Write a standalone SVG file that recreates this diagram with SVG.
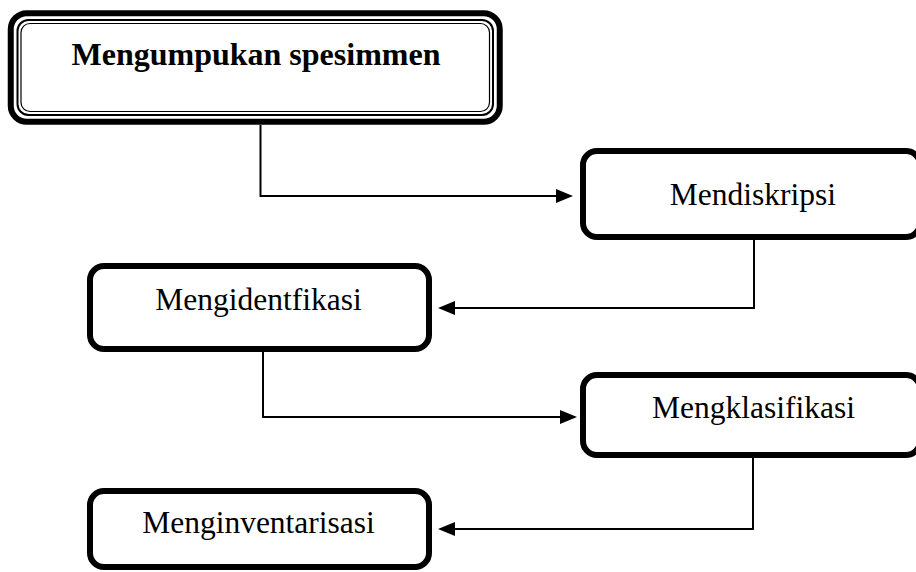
<svg xmlns="http://www.w3.org/2000/svg" width="916" height="572" viewBox="0 0 916 572">
<style>
.box{fill:#fff;stroke:#000;stroke-width:6}
.thin{fill:none;stroke:#000}
.lbl{font-family:"Liberation Serif","Times New Roman",serif;font-size:31.5px;fill:#000;text-anchor:middle}
.bold{font-weight:bold;font-size:32px}
.conn{fill:none;stroke:#000;stroke-width:2}
</style>
<defs>
<marker id="arr" markerUnits="userSpaceOnUse" markerWidth="17" markerHeight="14" refX="13" refY="7" orient="auto">
<path d="M0,0 L17,7 L0,14 z" fill="#000"/>
</marker>
</defs>
<rect width="916" height="572" fill="#fff"/>
<g id="connectors">
<path class="conn" d="M260.5 125 V196 H569" marker-end="url(#arr)"/>
<path class="conn" d="M754 239 V308 H442" marker-end="url(#arr)"/>
<path class="conn" d="M263 351 V417 H573" marker-end="url(#arr)"/>
<path class="conn" d="M753 457 V529 H442" marker-end="url(#arr)"/>
</g>
<g id="node1">
<rect x="10.75" y="13.25" width="489" height="108.5" rx="16" class="box" stroke-width="6.5"/>
<rect x="17.5" y="20" width="475.5" height="95" rx="11" class="thin" stroke-width="2"/>
<rect x="21" y="23.5" width="468.5" height="88" rx="9" class="thin" stroke-width="1.2"/>
<text x="256" y="65" class="lbl bold">Mengumpukan spesimmen</text>
</g>
<g id="node2">
<rect x="583" y="151" width="337" height="86" rx="14" class="box"/>
<text x="753" y="205" class="lbl">Mendiskripsi</text>
</g>
<g id="node3">
<rect x="90" y="266" width="339" height="83" rx="14" class="box"/>
<text x="258.5" y="310" class="lbl">Mengidentfikasi</text>
</g>
<g id="node4">
<rect x="583" y="375" width="337" height="80" rx="14" class="box"/>
<text x="753.5" y="418" class="lbl">Mengklasifikasi</text>
</g>
<g id="node5">
<rect x="90" y="491" width="339" height="76" rx="14" class="box"/>
<text x="258.5" y="533" class="lbl">Menginventarisasi</text>
</g>
</svg>
